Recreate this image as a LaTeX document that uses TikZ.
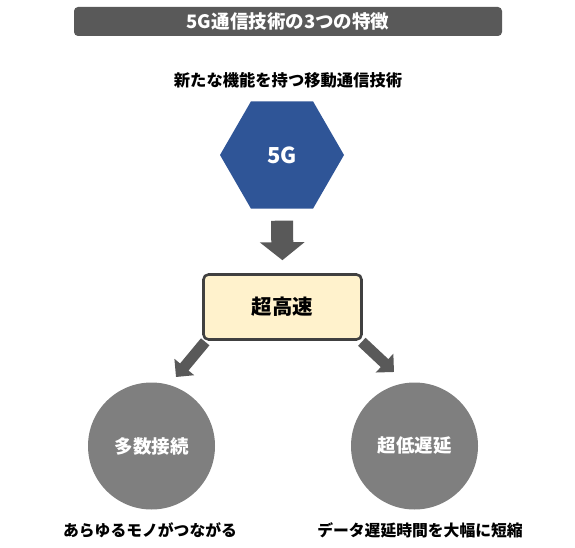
\documentclass[tikz,border=0pt]{standalone}
\usepackage{fontspec}
\setmainfont{Noto Sans CJK JP}
\usetikzlibrary{shapes.geometric,arrows.meta}
\definecolor{darkgray}{HTML}{595959}
\definecolor{hexblue}{HTML}{2F5597}
\definecolor{boxfill}{HTML}{FFF2CC}
\definecolor{boxline}{HTML}{404040}
\definecolor{circgray}{HTML}{7F7F7F}
\pgfdeclarelayer{bg}
\pgfsetlayers{bg,main}
\tikzset{
  fs/.style={font=\fontsize{#1}{#1}\selectfont\bfseries},
  titlebar/.style={fill=darkgray, rounded corners=4pt, minimum width=428pt, minimum height=29pt, inner sep=0pt, text=white, fs=18.5},
  lbl/.style={inner sep=0pt, text=black, fs=15.8},
  sublbl/.style={inner sep=0pt, text=black, fs=16.3},
  hexnode/.style={regular polygon, regular polygon sides=6, minimum size=124pt, inner sep=0pt, outer sep=0pt, fill=hexblue, text=white, fs=22},
  speedbox/.style={draw=boxline, line width=2.6pt, fill=boxfill, rounded corners=5pt, minimum width=158pt, minimum height=65pt, inner sep=0pt, fs=20.5},
  circnode/.style={circle, fill=circgray, minimum size=127pt, inner sep=0pt, text=white, fs=18.5},
  bigarrow/.style={draw=darkgray, line width=22pt, -{Triangle[width=44pt,length=18pt]}, color=darkgray},
  smallarrow/.style={draw=darkgray, line width=11pt, -{Triangle[width=25pt,length=13pt]}, color=darkgray},
}
\begin{document}
\begin{tikzpicture}[x=1pt,y=-1pt]
\useasboundingbox (0,0) rectangle (575,548);
\node[titlebar] (title) at (288,21.5) {5G通信技術の3つの特徴};
\node[sublbl] (sub) at (288,80) {新たな機能を持つ移動通信技術};
\node[hexnode] (hex) at (282,155) {5G};
\node[speedbox] (speed) at (282.5,307) {超高速};
\node[circnode] (c1) at (151.5,446) {多数接続};
\node[circnode] (c2) at (414.5,446) {超低遅延};
\node[lbl] (l1) at (150,530) {あらゆるモノがつながる};
\node[lbl] (l2) at (420,530) {データ遅延時間を大幅に短縮};
\coordinate (t1) at (176,377);
\coordinate (t2) at (394,372);
\begin{pgfonlayer}{bg}
\draw[bigarrow, shorten <=12pt, shorten >=13pt] (hex.south) -- (speed.north);
\draw[smallarrow] ([xshift=3pt,yshift=-1pt]speed.south west) -- (t1);
\draw[smallarrow] ([xshift=-1pt,yshift=-1pt]speed.south east) -- (t2);
\end{pgfonlayer}
\end{tikzpicture}
\end{document}
